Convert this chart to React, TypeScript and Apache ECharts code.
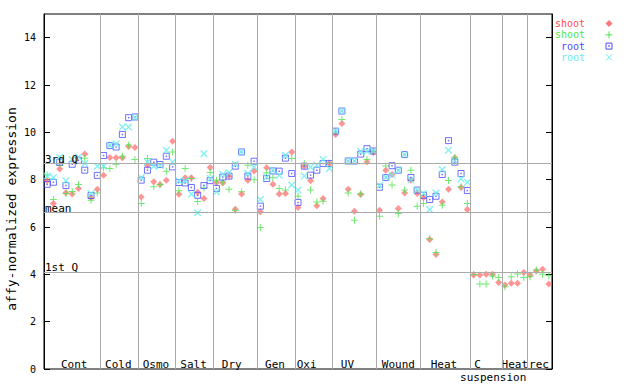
import React, { useEffect, useRef } from 'react';
import * as echarts from 'echarts';

const groupNames = ['Cont', 'Cold', 'Osmo', 'Salt', 'Dry', 'Gen', 'Oxi', 'UV', 'Wound', 'Heat', 'C suspension', 'Heat', 'rec'];
const groupSizes = [9, 6, 6, 6, 7, 6, 6, 7, 7, 8, 5, 4, 4];

const seriesNames = ['shoot', 'shoot', 'root', 'root'];

const shootRed = [
  7.95, 6.99, 8.45, 7.45, 7.39, 7.63, 9.08, 7.25, 7.59,
  8.19, 8.94, 8.93, 8.93, 9.4, 9.36,
  7.27, 8.6, 7.91, 7.8, 7.98, 9.62,
  7.38, 8.08, 8.08, 7.47, 7.2, 8.51,
  7.88, 7.86, 8.15, 6.75, 7.39, 7.98, 8.37,
  6.64, 8.5, 7.81, 7.39, 7.42, 9.17,
  6.82, 8.57, 7.95, 6.9, 7.2, 8.68,
  9.91, 10.37, 7.59, 6.67, 7.37, 8.75, 9.15,
  6.71, 8.4, 8.22, 6.78, 7.44, 7.98, 7.42,
  7.25, 5.47, 4.84, 7.06, 7.59, 8.93, 7.67, 6.74,
  3.97, 3.97, 4.0, 4.0, 3.66,
  3.55, 3.62, 3.62, 4.08,
  3.97, 4.14, 4.22, 3.59,
];
const shootGreen = [
  8.2, 7.16, 8.6, 7.42, 7.5, 7.8, 8.9, 7.13, 7.44,
  8.5, 8.47, 8.65, 8.99, 9.46, 8.85,
  6.99, 8.89, 7.7, 7.8, 8.36, 9.17,
  7.53, 8.47, 8.05, 7.08, 7.65, 8.3,
  7.98, 7.9, 7.59, 6.71, 7.49, 8.61, 8.0,
  5.98, 8.29, 8.08, 7.63, 7.56, 8.89,
  7.3, 8.68, 7.56, 7.06, 7.09, 8.7,
  10.0, 10.54, 7.44, 6.29, 7.4, 8.85, 9.2,
  6.45, 8.58, 7.77, 6.57, 7.56, 8.4, 6.88,
  6.99, 5.5, 4.92, 6.92, 7.96, 8.93, 7.7, 6.99,
  3.99, 3.59, 3.59, 3.93, 3.87,
  3.48, 3.9, 4.01, 3.87,
  3.9, 4.18, 4.0, 3.94,
];
const rootBlue = [
  7.8, 7.89, 8.74, 7.75, 8.65, 8.82, 8.4, 7.33, 8.18,
  9.02, 9.44, 9.38, 9.91, 10.62, 10.65,
  7.98, 8.4, 8.74, 8.64, 8.99, 8.54,
  7.88, 7.86, 7.67, 7.34, 7.75, 7.96,
  7.63, 8.11, 8.15, 8.57, 9.17, 8.15, 8.78,
  6.88, 8.05, 8.37, 8.36, 8.91, 8.26,
  7.04, 8.57, 8.19, 8.4, 8.68, 8.68,
  10.05, 10.9, 8.79, 8.79, 9.08, 9.31, 9.21,
  7.68, 8.09, 8.59, 8.4, 9.06, 8.09, 7.56,
  7.34, 7.16, 7.3, 8.22, 9.65, 8.74, 8.26, 7.54,
];
const rootCyan = [
  8.15, 8.09, 8.95, 7.95, 8.85, 8.96, 8.68, 7.42, 8.57,
  8.57, 9.45, 9.52, 10.23, 10.23, 10.63,
  8.09, 8.75, 8.57, 8.6, 9.24, 8.75,
  7.95, 7.95, 7.39, 6.6, 9.1, 8.05,
  7.49, 8.23, 8.3, 8.65, 9.17, 8.26, 8.54,
  7.16, 8.1, 8.4, 8.19, 9.03, 7.77,
  7.56, 8.15, 8.54, 8.61, 8.85, 8.47,
  10.05, 10.9, 8.79, 8.79, 9.2, 9.2, 9.21,
  7.75, 8.1, 8.2, 8.4, 9.06, 8.0, 7.56,
  7.42, 6.74, 7.44, 8.43, 9.24, 8.8, 8.03, 7.89,
];

const quantileNames = ['3rd Q', 'mean', '1st Q'];
const quantileValues = [8.68, 6.61, 4.08];
const yTickValues = [0, 2, 4, 6, 8, 10, 12, 14];

const COLORS = ['#ff4c4c', '#4ce64c', '#4c4cff', '#66eeee'];
const DIAMOND_FILL = '#ff7a7a';
const FONT = '"DejaVu Sans Mono", monospace';
const GRAY = '#aaaaaa';

const PLUS = 'path://M3,0H4V3H7V4H4V7H3V4H0V3H3Z';
const CROSS = 'path://M0,0L1,0L3.5,2.5L6,0L7,0L7,1L4.5,3.5L7,6L7,7L6,7L3.5,4.5L1,7L0,7L0,6L2.5,3.5L0,1Z';

// layout nudges for group labels (px)
const labelNudge = [2, -1, -1, -1, -3.5, -1, -7, -7, 0, -1.5, -8.5, 0.5, -0.5];
const subLabelNudge = 15.5;

export default function App() {
  const ref = useRef<HTMLDivElement>(null);

  useEffect(() => {
    document.body.style.margin = '0';
    const chart = echarts.init(ref.current!, null, { renderer: 'svg' });

    const total = groupSizes.reduce((a, b) => a + b, 0);
    const bounds: number[] = [0];
    groupSizes.forEach((s) => bounds.push(bounds[bounds.length - 1] + s));

    const toPts = (vals: number[]) => vals.map((v, i) => [i + 0.5, v]);

    const series: any[] = [
      {
        type: 'scatter', name: seriesNames[0], symbol: 'diamond', symbolSize: 7, silent: true, z: 3,
        itemStyle: { color: DIAMOND_FILL }, data: toPts(shootRed),
        markLine: {
          silent: true,
          symbol: 'none',
          lineStyle: { color: GRAY, width: 1, type: 'solid' },
          label: { position: 'insideStartTop', distance: [1, -1], color: '#000', fontFamily: FONT, fontSize: 11 },
          data: quantileValues.map((v, i) => ({ yAxis: v, name: quantileNames[i], label: { formatter: quantileNames[i] } })),
        },
      },
      {
        type: 'scatter', name: seriesNames[1], symbol: PLUS, symbolSize: 7, silent: true, z: 3,
        itemStyle: { color: COLORS[1] }, data: toPts(shootGreen),
        markLine: {
          silent: true,
          symbol: 'none',
          lineStyle: { color: GRAY, width: 1, type: 'solid' },
          label: { show: false },
          data: bounds.slice(1, -1).map((b) => ({ xAxis: b })),
        },
      },
      {
        type: 'scatter', name: seriesNames[2], symbol: 'rect', symbolSize: 6, silent: true, z: 3,
        itemStyle: { color: 'rgba(0,0,0,0)', borderColor: COLORS[2], borderWidth: 1 }, data: toPts(rootBlue),
      },
      {
        type: 'scatter', name: seriesNames[2] + ' centre', symbol: 'rect', symbolSize: 1.5, silent: true, z: 3,
        itemStyle: { color: COLORS[2] }, data: toPts(rootBlue),
      },
      {
        type: 'scatter', name: seriesNames[3], symbol: CROSS, symbolSize: 7, silent: true, z: 3,
        itemStyle: { color: COLORS[3] }, data: toPts(rootCyan),
      },
    ];

    const legendGraphics: any[] = [];
    const legendTop = 23.5;
    const rowH = 11.3;
    const mx = 609;
    seriesNames.forEach((name, k) => {
      const y = legendTop + k * rowH;
      legendGraphics.push({
        type: 'text',
        x: 585,
        y,
        style: { text: name, fill: COLORS[k], fontFamily: FONT, fontSize: 10, lineHeight: 10, align: 'right', verticalAlign: 'middle' },
      });
      if (k === 0) {
        legendGraphics.push({
          type: 'polygon',
          shape: { points: [[mx, y - 3.5], [mx + 3.5, y], [mx, y + 3.5], [mx - 3.5, y]] },
          style: { fill: DIAMOND_FILL },
        });
      } else if (k === 1) {
        legendGraphics.push({ type: 'rect', shape: { x: mx - 0.5, y: y - 3.5, width: 1, height: 7 }, style: { fill: COLORS[k] } });
        legendGraphics.push({ type: 'rect', shape: { x: mx - 3.5, y: y - 0.5, width: 7, height: 1 }, style: { fill: COLORS[k] } });
      } else if (k === 2) {
        legendGraphics.push({ type: 'rect', shape: { x: mx - 3, y: y - 3, width: 6, height: 6 }, style: { fill: 'none', stroke: COLORS[k], lineWidth: 1 } });
        legendGraphics.push({ type: 'rect', shape: { x: mx - 0.75, y: y - 0.75, width: 1.5, height: 1.5 }, style: { fill: COLORS[k] } });
      } else {
        legendGraphics.push({ type: 'line', shape: { x1: mx - 3, y1: y - 3, x2: mx + 3, y2: y + 3 }, style: { stroke: COLORS[k], lineWidth: 1 } });
        legendGraphics.push({ type: 'line', shape: { x1: mx - 3, y1: y + 3, x2: mx + 3, y2: y - 3 }, style: { stroke: COLORS[k], lineWidth: 1 } });
      }
    });

    const yAxisBase = {
      type: 'value',
      min: 0,
      max: 15,
      interval: 2,
      axisLine: { show: true, lineStyle: { color: '#000', width: 1 } },
      axisTick: { show: true, inside: true, length: 6, customValues: yTickValues, lineStyle: { color: '#000' } },
      splitLine: { show: false },
    };

    const yNameGraphic = {
      type: 'text',
      x: 11,
      y: 209,
      rotation: Math.PI / 2,
      style: { text: 'affy-normalized expression', fill: '#000', fontFamily: FONT, fontSize: 13, align: 'center', verticalAlign: 'middle' },
    };

    chart.setOption({
      animation: false,
      grid: { left: 44, top: 14, right: 88, bottom: 15, show: true, borderColor: '#000', borderWidth: 1, backgroundColor: 'transparent' },
      xAxis: {
        type: 'value',
        min: 0,
        max: total,
        axisLine: { show: false },
        axisTick: { show: false },
        axisLabel: { show: false },
        splitLine: { show: false },
      },
      yAxis: [
        {
          ...yAxisBase,
          position: 'left',
          axisLabel: { show: true, customValues: yTickValues, color: '#000', fontFamily: FONT, fontSize: 10, margin: 8 },
        },
        {
          ...yAxisBase,
          position: 'right',
          axisLabel: { show: false },
        },
      ],
      series,
      graphic: [yNameGraphic, ...legendGraphics],
    });

    const yBase = chart.convertToPixel({ yAxisIndex: 0 }, 0) as number;
    const groupGraphics: any[] = [];
    groupNames.forEach((name, g) => {
      const center = (bounds[g] + bounds[g + 1]) / 2;
      const px = (chart.convertToPixel({ xAxisIndex: 0 }, center) as number) + labelNudge[g];
      const parts = name.split(' ');
      groupGraphics.push({
        type: 'text',
        x: px,
        y: yBase - 5,
        style: { text: parts[0], fill: '#000', fontFamily: FONT, fontSize: 11, align: 'center', verticalAlign: 'middle' },
      });
      if (parts.length > 1) {
        groupGraphics.push({
          type: 'text',
          x: px + subLabelNudge,
          y: yBase + 8,
          style: { text: parts.slice(1).join(' '), fill: '#000', fontFamily: FONT, fontSize: 11, align: 'center', verticalAlign: 'middle' },
        });
      }
    });

    chart.setOption({
      graphic: [yNameGraphic, ...legendGraphics, ...groupGraphics],
    });

    return () => chart.dispose();
  }, []);

  return <div ref={ref} style={{ width: 640, height: 384 }} />;
}
